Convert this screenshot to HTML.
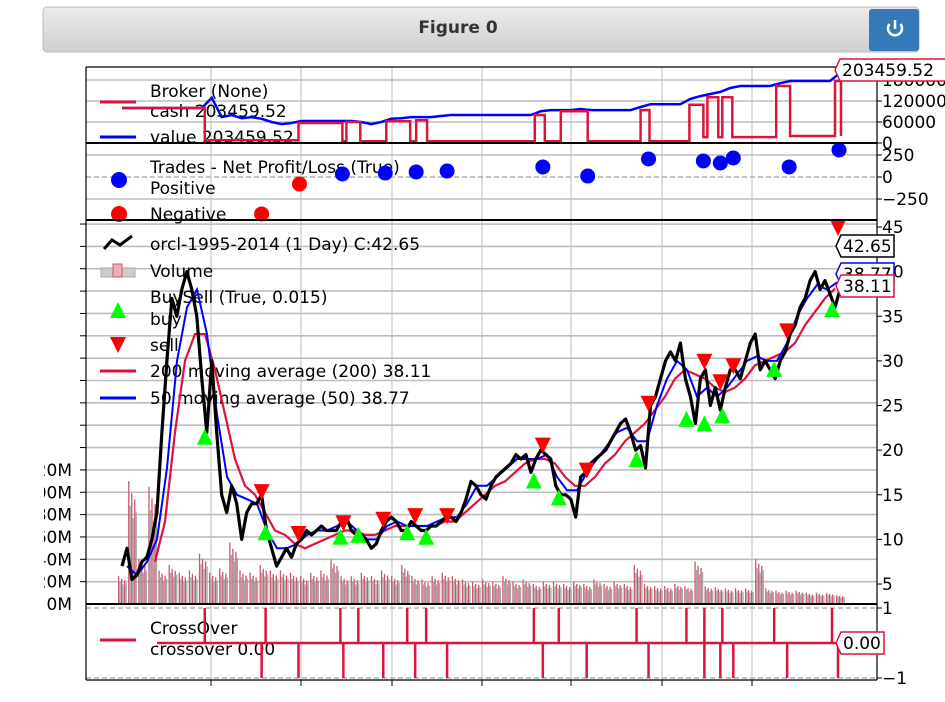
<!DOCTYPE html>
<html><head><meta charset="utf-8"><style>
html,body{margin:0;padding:0;background:#fff;width:945px;height:702px;overflow:hidden}
svg{display:block;font-family:"DejaVu Sans","Liberation Sans",sans-serif}
</style></head><body>
<svg id="chart" width="945" height="702" viewBox="0 0 945 702">
<defs><linearGradient id="hdr" x1="0" y1="0" x2="0" y2="1"><stop offset="0" stop-color="#ececec"/><stop offset="1" stop-color="#cfcfcf"/></linearGradient>
<clipPath id="leftclip"><rect x="44" y="0" width="901" height="702"/></clipPath></defs>
<g>
<rect x="43" y="7" width="876" height="45" rx="4" fill="url(#hdr)" stroke="#bbb"/>
<text x="458" y="33" text-anchor="middle" font-size="17" font-weight="bold" fill="#333">Figure 0</text>
<g><rect x="869" y="9" width="50" height="42" rx="3" fill="#337ab7"/>
<path d="M889.5,24 A7,7 0 1 0 900.5,24" fill="none" stroke="#fff" stroke-width="2.5"/><line x1="895" y1="20" x2="895" y2="29" stroke="#fff" stroke-width="2.5"/></g>
</g>
<g id="grid"></g>
<g id="legends" font-size="17" fill="#000"></g>
<g id="marks"></g>
<g id="frames" clip-path="url(#leftclip)"></g>
</svg>
<script>
// ---- data ----
const closePrices=[7,9,5.5,6,7.5,8,10,13,22,30,37,35,38,40,38,35,28,22,30,22,15,13,16,14,10,13,14,14,15,11,9,7,8,9,8,9.5,10,11,10.5,11,11.5,11,11,11,12,12.5,11,10.5,10.5,10,9,9.5,11,12,12.5,12,11,11,12,11.5,11,11,11.5,11.5,12,12.5,12.5,12,13,14.5,16.5,16,15,14.5,16,17,17.5,18,18.5,19.5,19,19.5,17.5,19,20,19.5,19,16,15,15,14.5,12.5,17,17.5,18.5,19,19.5,20,21,22,23,23.5,22,20,20.5,18,25,26,28,30,31,30,32,28,26,23,28,29,25,27,24.5,27,29,29,28,30,32,33,29,30,29,28,30,31,33,34,36,37,39,40,38,39,37.5,36,38];
const sma50=[7,6,7.5,10,18,30,36,38,33,24,17,15,14.5,14,11,9,9,9.5,10.5,11,11,11.5,12,11,10,10,11.5,12,11.5,11.5,11.5,12,12.5,12.5,14,16,16,17,18,19,19,19,19.5,17,15.5,15.5,17.5,19,20.5,22,22.5,21,21,25,28,30,29,26,27,26,27,28.5,30,30.5,30,30,32,35,37,38.5,38,38.8];
const sma200=[7.5,12,22,30,33,33,29,24,19,16,15,13,11,10.5,9.5,9,9.5,10,10.5,11,11,10.5,10.5,11,11.5,11.5,11.5,11.5,11.5,12,12,13,14,15,16,16.5,17.5,18.5,19,19,18.5,17,16,16,17,18.5,19.5,21,22,23,24.5,26,28,29,28.5,28,27,26.5,27,28,29.5,30,30.5,31,32,34,35.5,37,38.11];
const volumeM=[25,110,40,105,30,35,28,30,45,28,32,55,30,28,35,30,30,28,25,28,30,40,25,25,28,25,30,25,35,25,22,25,28,25,22,20,22,20,25,20,22,18,20,20,18,20,18,22,18,20,18,35,18,16,16,18,16,38,16,15,14,14,14,40,14,12,12,12,10,10,10,8];
// trade dates expressed as day index on the close series
const buyDay=[16.6,28.8,43.8,47.4,57.2,61,82.6,87.6,103.2,113.2,116.8,120.4,130.8,142.4];
const buyPrice=[21.5,10.8,10.3,10.5,10.8,10.3,16.6,14.7,19,23.5,23,23.9,29.1,35.8];
const sellDay=[28,35.4,44.4,52.4,58.8,65.2,84.4,93.2,105.6,116.8,120,122.6,133.4,143.6];
const sellPrice=[15.3,10.6,11.8,12.2,12.6,12.6,20.5,17.7,25.2,29.9,27.6,29.4,33.3,44.9];
const tradeDay=[44.2,52.8,59,65.2,84.4,93.4,105.6,116.6,120,122.6,133.8,143.8,28,35.6];
const tradePnl=[34,45,57,68,114,11,205,182,159,216,114,307,-420,-80];
const cashDay=[0,16.6,35.4,44.2,45,47.8,53,57.8,59,61.2,82.8,84.8,88,93.4,104,105.8,113.8,116.6,117.4,119.6,120.4,122.4,131.2,134,143,144.2];
const cashK=[100,8,57,5,60,5,62,5,65,5,80,5,91,5,94,5,109,17,131,17,131,17,163,20,177,20];
const valueK=[100,100,100,100,100,100,100,100,100,129,74,80,71,74,69,60,54,57,63,63,63,63,63,63,60,54,60,69,71,74,74,74,77,80,80,80,80,80,80,80,80,80,91,94,94,94,97,94,94,94,94,94,103,111,111,111,111,126,134,140,146,157,163,163,163,163,171,177,177,177,177,177,200];
const crossUpDay=buyDay, crossDownDay=sellDay;
const priceTicks=[5,10,15,20,25,30,35,40,45];
const volTicks=["0M","20M","40M","60M","80M","100M","120M"];
const brokerTicks=[0,60000,120000,180000];
const tradeTicks=[250,0,-250];

// ---- axes ----
const X0=122,X1=840,L=86,R=877;
const step=(X1-X0)/(closePrices.length-1);
const xDay=d=>X0+d*step;
const yPrice=p=>584-(p-5)*8.925;
const yVol=v=>604-v*22.35/20;
const yBroker=k=>143-k*21/60;
const yTrade=v=>177-v*22/250;
const yCross=c=>643-c*35;
const NS='http://www.w3.org/2000/svg';
function mk(parent,tag,attrs,text){const e=document.createElementNS(NS,tag);for(const k in attrs)e.setAttribute(k,attrs[k]);if(text!=null)e.textContent=text;document.getElementById(parent).appendChild(e);return e;}
function ptsFrom(arr,x0,x1,yf){const s=(x1-x0)/(arr.length-1);return arr.map((v,i)=>(x0+i*s).toFixed(1)+','+yf(v).toFixed(1)).join(' ');}

// grid
[211,301,392,482,571,662,752].forEach(x=>{let g=mk('grid','line',{x1:x,x2:x,y1:67,y2:680,stroke:'#c8c8c8','stroke-width':1.2});

});
const hy=[80,101,122,155,199];for(let y=604-22.35;y>222;y-=22.35)hy.push(y);
hy.forEach(y=>{let g=mk('grid','line',{x1:L,x2:R,y1:y,y2:y,stroke:'#bdbdbd','stroke-width':1.6});

});
[177,608,678].forEach(y=>{let g=mk('grid','line',{x1:L,x2:R,y1:y,y2:y,stroke:'#b0b0b0','stroke-width':1.6,'stroke-dasharray':'5,3'});

});

// volume bars (each sample drawn as a small cluster of daily bars)
const vs=(X1-X0)/(volumeM.length-1);
const sub=[[-4,1,'#c85a6e'],[-2.5,0.8,'#a8a8a8'],[-1,0.9,'#c85a6e'],[0.5,0.7,'#a8a8a8'],[2,0.85,'#c85a6e'],[3.5,0.75,'#a8a8a8']];
volumeM.forEach((v,i)=>{const x=X0+i*vs;
 sub.forEach(([dx,f,c])=>{
  let b=mk('marks','rect',{x:x+dx,y:yVol(v*f),width:1.3,height:604-yVol(v*f),fill:c});
  
  });});

// legends text (drawn below lines)
function leg(x,y,t,name){let e=mk('legends','text',{x:x,y:y},t);
 
 }
leg(150,97,'Broker (None)','broker-legend-title');leg(150,117,'cash 203459.52','cash-legend-label');leg(150,143,'value 203459.52','value-legend-label');
leg(150,173,'Trades - Net Profit/Loss (True)','trades-legend-title');leg(150,194,'Positive','positive-legend-label');leg(150,220,'Negative','negative-legend-label');
leg(150,250,'orcl-1995-2014 (1 Day) C:42.65','price-legend-label');leg(150,277,'Volume','volume-legend-label');leg(150,303,'BuySell (True, 0.015)','buysell-legend-title');
leg(150,325,'buy','buy-legend-label');leg(150,351,'sell','sell-legend-label');leg(150,377,'200 moving average (200) 38.11','sma200-legend-label');leg(150,404,'50 moving average (50) 38.77','sma50-legend-label');
leg(150,634,'CrossOver','crossover-legend-title');leg(150,655,'crossover 0.00','crossover-legend-label');
[[102,'#dc143c'],[137,'#0000ff'],[371,'#dc143c'],[398,'#0000ff'],[640,'#dc143c']].forEach(([y,c])=>{let l=mk('legends','line',{x1:100,x2:136,y1:y,y2:y,stroke:c,'stroke-width':3});
 
 });
[[180,'#0000ff'],[214,'#ff0000']].forEach(([y,c])=>{let l=mk('legends','circle',{cx:119,cy:y,r:8,fill:c});
 
 });
let lz=mk('legends','polyline',{points:'104,249 112,240 120,245 132,236',fill:'none',stroke:'#000','stroke-width':3});


let lv=mk('legends','rect',{x:101,y:268,width:34,height:9,fill:'#ccc',stroke:'#aaa'});


let lv2=mk('legends','rect',{x:113,y:264,width:9,height:13,fill:'#e8b0b8',stroke:'#c85a6e'});


let lb=mk('legends','polygon',{points:'118,302 110,318 126,318',fill:'#00ff00'});


let ls=mk('legends','polygon',{points:'110,337 126,337 118,353',fill:'#ff0000'});



// broker
let cp=[];cashDay.forEach((d,i)=>{const x=xDay(d),y=yBroker(cashK[i]);if(i>0)cp.push(x.toFixed(1)+','+yBroker(cashK[i-1]).toFixed(1));cp.push(x.toFixed(1)+','+y.toFixed(1));});
let vl=mk('marks','polyline',{points:ptsFrom(valueK,X0,X1,yBroker),fill:'none',stroke:'#0000ff','stroke-width':2.5});


let cl=mk('marks','polyline',{points:cp.join(' '),fill:'none',stroke:'#dc143c','stroke-width':2.5});



// trades
tradeDay.forEach((d,i)=>{let c=mk('marks','circle',{cx:xDay(d),cy:yTrade(tradePnl[i]),r:7.5,fill:tradePnl[i]>=0?'#0000ff':'#ff0000'});
 
 });

// price lines
let s2=mk('marks','polyline',{points:ptsFrom(sma200,155,835,yPrice),fill:'none',stroke:'#dc143c','stroke-width':2.2});


let s5=mk('marks','polyline',{points:ptsFrom(sma50,127,837,yPrice),fill:'none',stroke:'#0000ff','stroke-width':2});


let pl=mk('marks','polyline',{points:closePrices.map((p,i)=>xDay(i).toFixed(1)+','+yPrice(p).toFixed(1)).join(' '),fill:'none',stroke:'#000','stroke-width':3.2,'stroke-linejoin':'round'});


buyDay.forEach((d,i)=>{const x=xDay(d),y=yPrice(buyPrice[i]);
 let t=mk('marks','polygon',{points:`${x},${y-8} ${x-8},${y+8} ${x+8},${y+8}`,fill:'#00ff00'});
 
 });
sellDay.forEach((d,i)=>{const x=xDay(d),y=yPrice(sellPrice[i]);
 let t=mk('marks','polygon',{points:`${x-8},${y-8} ${x+8},${y-8} ${x},${y+8}`,fill:'#ff0000'});
 
 });

// crossover
let cx=mk('marks','line',{x1:157,x2:xDay(143.6),y1:yCross(0),y2:yCross(0),stroke:'#dc143c','stroke-width':2.5});


crossUpDay.forEach(d=>{let l=mk('marks','line',{x1:xDay(d),x2:xDay(d),y1:yCross(0),y2:yCross(1),stroke:'#dc143c','stroke-width':2.5});
 
 });
crossDownDay.forEach(d=>{let l=mk('marks','line',{x1:xDay(d),x2:xDay(d),y1:yCross(0),y2:yCross(-1),stroke:'#dc143c','stroke-width':2.5});
 
 });

// frames
[67,143,220,604,680].forEach(y=>{let l=mk('frames','line',{x1:L,x2:R,y1:y,y2:y,stroke:'#000','stroke-width':y==67||y==680?1.2:2});
 
 });
[L,R].forEach(x=>{let l=mk('frames','line',{x1:x,x2:x,y1:67,y2:680,stroke:'#000','stroke-width':1.2});
 
 });
function tick(x1,x2,y1,y2){let t=mk('frames','line',{x1,x2,y1,y2,stroke:'#000','stroke-width':1});
 
 }
function lab(x,y,t,anchor,name){let e=mk('frames','text',{x:x,y:y,'font-size':17,'text-anchor':anchor},t);
 
 }
priceTicks.forEach(p=>{tick(R,R+5,yPrice(p),yPrice(p));lab(882,yPrice(p)+6,String(p),'start','price-tick-label');});
brokerTicks.forEach(k=>{tick(R,R+5,yBroker(k/1000),yBroker(k/1000));lab(882,yBroker(k/1000)+6,String(k),'start','broker-tick-label');});
tradeTicks.forEach(v=>{tick(R,R+5,yTrade(v),yTrade(v));lab(882,yTrade(v)+6,String(v).replace('-','\u2212'),'start','trades-tick-label');});
[1,-1].forEach(c=>{tick(R,R+5,yCross(c),yCross(c));lab(882,yCross(c)+6,String(c).replace('-','\u2212'),'start','crossover-tick-label');});
volTicks.forEach((t,i)=>{const y=yVol(i*20);lab(72,y+6,t,'end','volume-tick-label');});
for(let y=604-22.35;y>222;y-=22.35)tick(80,L,y,y);
[211,301,392,482,571,662,752].forEach(x=>tick(x,x,680,686));

// last-value tags
function tag(x,y,w,t,color,name){let g=mk('frames','polygon',{points:`${x},${y} ${x+5},${y-11} ${x+w},${y-11} ${x+w},${y+11} ${x+5},${y+11}`,fill:'#fff',stroke:color,'stroke-width':1.5});
 
 
 lab(x+7,y+6,t,'start',name+'-text');}
tag(835,70,115,'203459.52','#dc143c','broker-value-tag');
tag(836,274,58,'38.77','#0000ff','sma50-value-tag');
tag(836,246,58,'42.65','#000','close-value-tag');
tag(836,286,58,'38.11','#dc143c','sma200-value-tag');
tag(836,643,48,'0.00','#dc143c','crossover-value-tag');
</script>
</body></html>
